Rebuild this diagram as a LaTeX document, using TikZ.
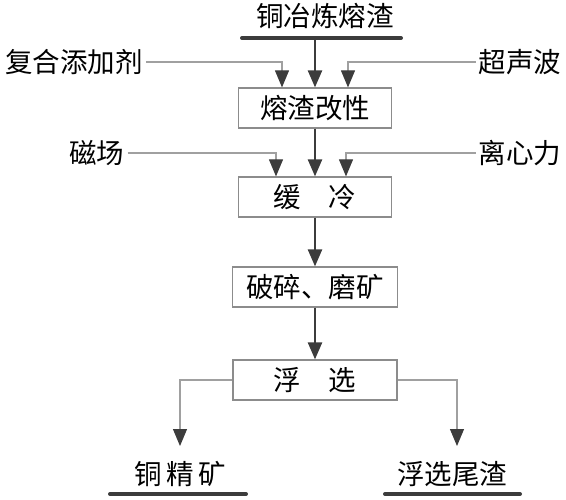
\documentclass[tikz,border=0pt]{standalone}
\usepackage{fontspec}
\usepackage{tikz}
\usetikzlibrary{arrows.meta,positioning}
\newfontfamily\cjk{Noto Sans CJK SC}
\definecolor{ink}{HTML}{3C3C3C}
\definecolor{wire}{HTML}{A0A0A0}
\definecolor{frame}{HTML}{8C8C8C}
\tikzstyle{arr}=[-{Triangle[width=14pt,length=17pt,color=ink]}]

\begin{document}
\begin{tikzpicture}[x=1pt,y=-1pt,font=\cjk\fontsize{27.5}{28}\selectfont]
  \tikzstyle stageS=[draw=frame,line width=1.2pt,minimum height=40pt,inner sep=0pt];
  \tikzstyle labelS=[inner sep=3pt];
  \tikzstyle mainA=[arr,draw=ink,line width=2.4pt];
  \tikzstyle sideA=[arr,draw=wire,line width=1.1pt];
  \tikzstyle barS=[draw=ink,line width=4pt,line cap=round];
  \useasboundingbox (0,0) rectangle (566,500);
  % process steps
  \foreach \sname/\sy/\sw/\stext in {
    modify/108/153/熔渣改性,
    cool/197/153/缓\hspace{1em}冷,
    crush/287/165/破碎、磨矿,
    float/380/164/浮\hspace{1em}选}
  {
    \node[stageS,minimum width=\sw pt] (\sname) at (315,\sy) {\stext};
  }
  % feed and products
  \node[labelS] (slag) at (325,16) {铜冶炼熔渣};
  \node[labelS] (conc) at (180,474) {铜\,精\,矿};
  \node[labelS] (tail) at (452,474) {浮选尾渣};
  \foreach \bname/\bl/\br/\by in {slag/242/401/38, conc/110/246/494, tail/385/520/494}
  {
    \draw[barS] (\bl,\by) coordinate (\bname L) -- (\br,\by) coordinate (\bname R);
  }
  \coordinate (slagFoot) at (315,38);
  % additions
  \node[labelS] (additive) at (74,62) {复合添加剂};
  \node[labelS] (ultra) at (520,62) {超声波};
  \node[labelS] (magnet) at (97,153) {磁场};
  \node[labelS] (centri) at (520,153) {离心力};
  \draw[sideA] (additive.east) -| ([xshift=-33pt]modify.north);
  \draw[sideA] (ultra.west) -| ([xshift=33pt]modify.north);
  \draw[sideA] (magnet.east) -| ([xshift=-39pt]cool.north);
  \draw[sideA] (centri.west) -| ([xshift=31pt]cool.north);
  % main flow
  \draw[mainA] (slagFoot) -- (modify.north);
  \draw[mainA] (modify) -- (cool);
  \draw[mainA] (cool) -- (crush);
  \draw[mainA] (crush) -- (float);
  % split
  \coordinate (concIn) at (180,446);
  \coordinate (tailIn) at (457,446);
  \draw[sideA] (float.west) -| (concIn);
  \draw[sideA] (float.east) -| (tailIn);
\end{tikzpicture}
\end{document}
